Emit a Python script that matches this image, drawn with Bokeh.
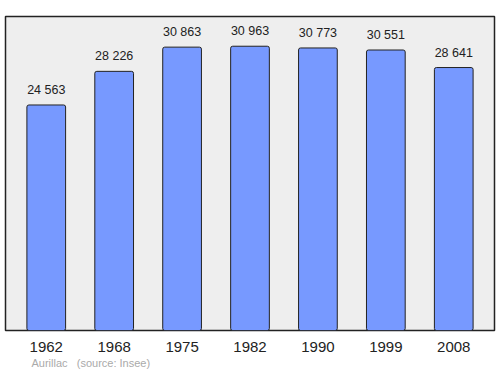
from bokeh.plotting import figure
from bokeh.models import Range1d, FixedTicker, Title, ColumnDataSource
from bokeh.core.properties import value
from bokeh.embed import file_html
from bokeh.resources import INLINE

years = ["1962", "1968", "1975", "1982", "1990", "1999", "2008"]
population = [24563, 28226, 30863, 30963, 30773, 30551, 28641]
value_labels = ["24 563", "28 226", "30 863", "30 963", "30 773", "30 551", "28 641"]
footer_place = "Aurillac"
footer_source = "(source: Insee)"

xs = list(range(len(years)))
src = ColumnDataSource(dict(x=xs, top=population, lab=value_labels))

p = figure(width=500, height=374, output_backend="svg", toolbar_location=None,
           x_range=Range1d(-0.6, 6.6), y_range=Range1d(0, 34200),
           min_border_left=5, min_border_right=6, min_border_top=16, min_border_bottom=44)
p.background_fill_color = "#eeeeee"
p.border_fill_color = "white"
p.outline_line_color = "#222222"
p.outline_line_width = 1.5
p.grid.visible = False
p.yaxis.visible = False

p.xaxis.ticker = FixedTicker(ticks=xs)
p.xaxis.major_label_overrides = {i: y for i, y in enumerate(years)}
p.xaxis.axis_line_color = None
p.xaxis.major_tick_line_color = None
p.xaxis.minor_tick_line_color = None
p.xaxis.major_label_text_font = "Liberation Sans"
p.xaxis.major_label_text_font_size = "15px"
p.xaxis.major_label_text_color = "#222222"
p.xaxis.major_label_standoff = 5

p.vbar(x="x", top="top", bottom=0, width=0.57, source=src,
       fill_color="#7799ff", line_color="#222222", line_width=1, border_radius=2)

p.text(x="x", y="top", text="lab", source=src, text_align="center",
       text_baseline="bottom", y_offset=-8, text_font=value("Liberation Sans"),
       text_font_size="12.5px", text_color="#222222")

footer = Title(text=footer_place + "\u00a0\u00a0\u00a0" + footer_source,
               align="left", offset=26, standoff=0,
               text_font="Liberation Sans", text_font_size="11px",
               text_font_style="normal", text_color="#aaaaaa")
p.add_layout(footer, "below")

open("out.html", "w").write(file_html(p, INLINE))
